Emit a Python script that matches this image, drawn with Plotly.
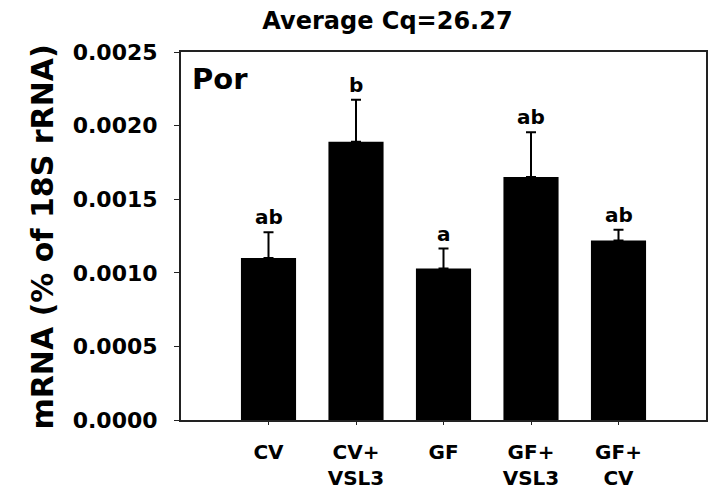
import plotly.graph_objects as go

categories = ["CV", "CV+<br>VSL3", "GF", "GF+<br>VSL3", "GF+<br>CV"]
means = [0.00110, 0.00189, 0.00103, 0.00165, 0.00122]
errors = [0.000175, 0.000285, 0.000135, 0.000305, 0.000073]
letters = ["ab", "b", "a", "ab", "ab"]
y_ticks = [0.0, 0.0005, 0.0010, 0.0015, 0.0020, 0.0025]

FONT = "DejaVu Sans"
xpos = list(range(len(categories)))

fig = go.Figure()
fig.add_trace(go.Bar(
    x=xpos, y=means, width=0.63,
    marker=dict(color="black", line=dict(width=0)),
    error_y=dict(type="data", array=errors, arrayminus=[0] * len(errors),
                 symmetric=False, color="black", thickness=2, width=5),
    showlegend=False, hoverinfo="skip",
))

for xi, m, e, lt in zip(xpos, means, errors, letters):
    fig.add_annotation(x=xi, y=m + e, text=f"<b>{lt}</b>", showarrow=False,
                       yanchor="bottom", yshift=1,
                       font=dict(family=FONT, size=20, color="black"))

fig.add_annotation(xref="paper", yref="paper", x=0.017, y=0.926,
                   xanchor="left", yanchor="middle", text="<b>Por</b>",
                   showarrow=False, font=dict(family=FONT, size=29, color="black"))

fig.add_annotation(xref="paper", yref="paper", x=-0.264, y=0.497,
                   textangle=-90, text="<b>mRNA (% of 18S rRNA)</b>", showarrow=False,
                   xanchor="center", yanchor="middle",
                   font=dict(family=FONT, size=30, color="black"))

fig.update_layout(
    width=711, height=498,
    margin=dict(l=181, r=3, t=52, b=78),
    paper_bgcolor="white", plot_bgcolor="white",
    title=dict(text="<b>Average Cq=26.27</b>", x=0.545, xanchor="center",
               xref="container", yref="container", y=0.958, yanchor="middle",
               font=dict(family=FONT, size=24, color="black")),
)
fig.update_xaxes(
    range=[-1, 5], tickvals=xpos, ticktext=[f"<b>{c}</b>" for c in categories],
    showline=True, linecolor="#222", linewidth=2, mirror=True,
    ticks="outside", ticklen=3, tickcolor="#222", showgrid=False, zeroline=False,
    tickfont=dict(family=FONT, size=20, color="black"), ticklabelstandoff=10,
)
fig.update_yaxes(
    range=[0, 0.0025], tickvals=y_ticks,
    ticktext=[f"<b>{v:.4f}</b>" for v in y_ticks],
    showline=True, linecolor="#222", linewidth=2, mirror=True,
    ticks="outside", ticklen=5, tickcolor="#222", showgrid=False, zeroline=False,
    tickfont=dict(family=FONT, size=22, color="black"), ticklabelstandoff=12,
)

fig.write_html("out.html", config={"displayModeBar": False},
               post_script="document.body.style.margin='0';document.body.style.overflow='hidden';")
